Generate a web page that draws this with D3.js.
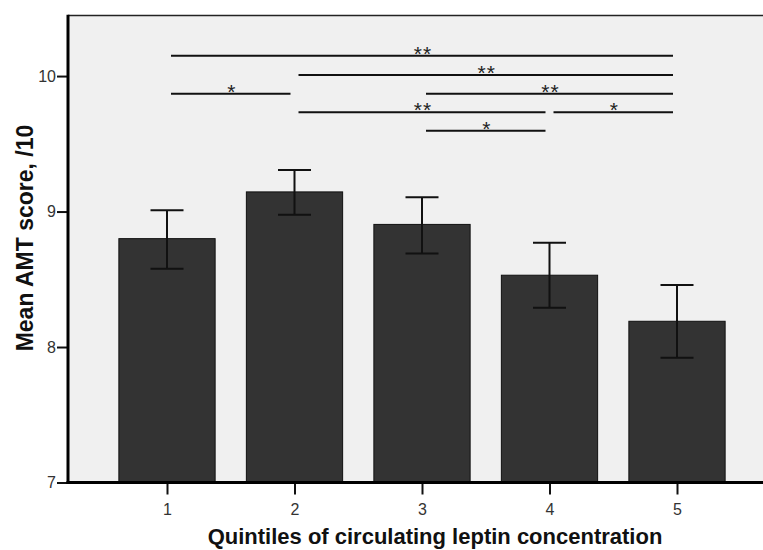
<!DOCTYPE html>
<html>
<head>
<meta charset="utf-8">
<script src="https://cdn.jsdelivr.net/npm/d3@7"></script>
<style>
  html, body { margin: 0; padding: 0; background: #fff; }
  svg { display: block; }
  text { font-family: "Liberation Sans", Arial, sans-serif; }
</style>
</head>
<body>
<svg id="chart" width="763" height="550"></svg>
<script>
// ---- data ----
const categories = ["1", "2", "3", "4", "5"];
const means      = [8.80, 9.145, 8.905, 8.53, 8.19];
const errLow     = [8.578, 8.976, 8.691, 8.29, 7.921];
const errHigh    = [9.009, 9.306, 9.105, 8.77, 8.458];
const yTicks     = [7, 8, 9, 10];
const bracketFrom  = ["1", "2", "1", "3", "2", "4", "3"];
const bracketTo    = ["5", "5", "2", "5", "4", "5", "4"];
const bracketLevel = [10.15, 10.007, 9.869, 9.869, 9.732, 9.732, 9.596];
const bracketLabel = ["**", "**", "*", "**", "**", "*", "*"];
const xTitle = "Quintiles of circulating leptin concentration";
const yTitle = "Mean AMT score, /10";

// ---- layout ----
const plotLeft = 68, plotRight = 763, plotTop = 15.5, plotBottom = 482.5;
const FONT = "'Liberation Sans', Arial, sans-serif";

const svg = d3.select("#chart");

const x = d3.scalePoint().domain(categories).range([167, 677]);
const y = d3.scaleLinear().domain([7, 10.447]).range([plotBottom, plotTop]);
const barW = x.step() * 0.755;

// plot background
svg.append("rect")
  .attr("x", plotLeft).attr("y", plotTop)
  .attr("width", plotRight - plotLeft).attr("height", plotBottom - plotTop)
  .attr("fill", "#f0f0f0");

// top border
svg.append("line")
  .attr("x1", plotLeft).attr("x2", plotRight)
  .attr("y1", plotTop).attr("y2", plotTop)
  .attr("stroke", "#222").attr("stroke-width", 1.5);

// bars
const rows = categories.map((c, i) => ({ c, m: means[i], lo: errLow[i], hi: errHigh[i] }));
svg.append("g").selectAll("rect").data(rows).join("rect")
  .attr("x", d => x(d.c) - barW / 2)
  .attr("y", d => y(d.m))
  .attr("width", barW)
  .attr("height", d => y(7) - y(d.m))
  .attr("fill", "#333333")
  .attr("stroke", "#111")
  .attr("stroke-width", 1);

// error bars
const capW = 33;
const eb = svg.append("g").attr("stroke", "#111").attr("stroke-width", 2);
eb.selectAll("line.v").data(rows).join("line").attr("class", "v")
  .attr("x1", d => x(d.c)).attr("x2", d => x(d.c))
  .attr("y1", d => y(d.lo)).attr("y2", d => y(d.hi));
eb.selectAll("line.t").data(rows).join("line").attr("class", "t")
  .attr("x1", d => x(d.c) - capW / 2).attr("x2", d => x(d.c) + capW / 2)
  .attr("y1", d => y(d.hi)).attr("y2", d => y(d.hi));
eb.selectAll("line.b").data(rows).join("line").attr("class", "b")
  .attr("x1", d => x(d.c) - capW / 2).attr("x2", d => x(d.c) + capW / 2)
  .attr("y1", d => y(d.lo)).attr("y2", d => y(d.lo));

// significance brackets
const br = bracketFrom.map((f, i) => ({ f, t: bracketTo[i], v: bracketLevel[i], l: bracketLabel[i] }));
const bg = svg.append("g");
bg.selectAll("line").data(br).join("line")
  .attr("x1", d => x(d.f) + 4).attr("x2", d => x(d.t) - 4)
  .attr("y1", d => y(d.v)).attr("y2", d => y(d.v))
  .attr("stroke", "#111").attr("stroke-width", 2);
bg.selectAll("text").data(br).join("text")
  .attr("x", d => (x(d.f) + x(d.t)) / 2 + 1)
  .attr("y", d => y(d.v) + 5)
  .attr("text-anchor", "middle")
  .style("font-size", "21px")
  .style("font-family", FONT)
  .attr("letter-spacing", 1)
  .attr("fill", "#222")
  .text(d => d.l);

// y axis ticks
const yAxis = svg.append("g")
  .attr("transform", `translate(${plotLeft},0)`)
  .call(d3.axisLeft(y).tickValues(yTicks).tickFormat(d3.format("d")).tickSize(11).tickSizeOuter(0).tickPadding(1));
yAxis.select(".domain").remove();
yAxis.selectAll(".tick line").attr("stroke", "#111").attr("stroke-width", 2);
yAxis.selectAll(".tick text").style("font-size", "16px").attr("fill", "#333")
  .style("font-family", FONT);

// x axis ticks
const xAxis = svg.append("g")
  .attr("transform", `translate(0,${plotBottom})`)
  .call(d3.axisBottom(x).tickSize(12).tickSizeOuter(0).tickPadding(9));
xAxis.select(".domain").remove();
xAxis.selectAll(".tick line").attr("stroke", "#111").attr("stroke-width", 2);
xAxis.selectAll(".tick text").style("font-size", "16px").attr("fill", "#333")
  .style("font-family", FONT);

// thick axis lines
svg.append("line")
  .attr("x1", plotLeft).attr("x2", plotLeft)
  .attr("y1", plotTop - 0.75).attr("y2", plotBottom + 1.5)
  .attr("stroke", "#000").attr("stroke-width", 3);
svg.append("line")
  .attr("x1", plotLeft - 1.5).attr("x2", plotRight)
  .attr("y1", plotBottom).attr("y2", plotBottom)
  .attr("stroke", "#000").attr("stroke-width", 3);

// titles
svg.append("text")
  .attr("x", 435).attr("y", 544)
  .attr("text-anchor", "middle")
  .style("font-size", "22px").attr("font-weight", "bold").attr("fill", "#111")
  .text(xTitle);
svg.append("text")
  .attr("transform", "translate(33,238) rotate(-90)")
  .attr("text-anchor", "middle")
  .style("font-size", "23px").attr("font-weight", "bold").attr("fill", "#111")
  .text(yTitle);
</script>
</body>
</html>
